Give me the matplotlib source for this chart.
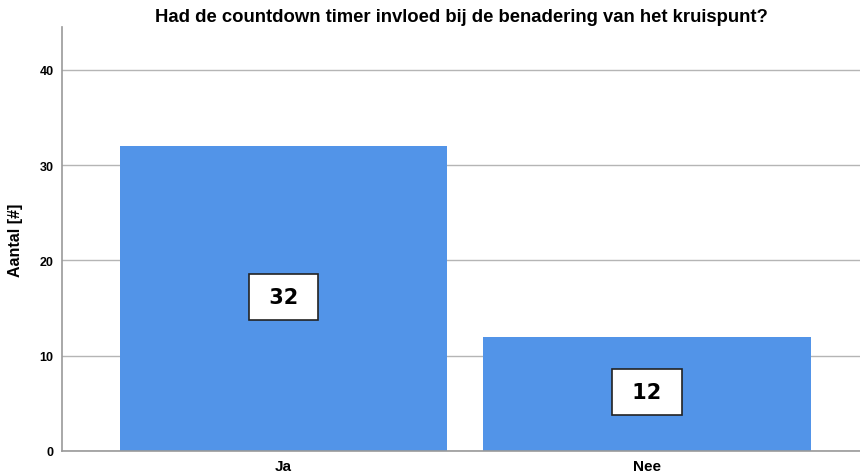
import matplotlib.pyplot as plt

categories = ['Ja', 'Nee']
counts = [32, 12]

fig = plt.figure(figsize=(8.6, 4.77), dpi=100)
ax = fig.add_axes([62 / 860, 1 - 452 / 477, 798 / 860, 424 / 477])

x = range(len(categories))
ax.bar(x, counts, width=0.9, color='#5294e8', zorder=2)

# waarde-labels in witte kaders midden in de staaf
for xi, c in zip(x, counts):
    ax.text(xi, c / 2 + 0.2, ' %d ' % c, ha='center', va='center', fontsize=15,
            fontweight='bold', family='DejaVu Sans', zorder=3,
            bbox=dict(boxstyle='square,pad=0.62', fc='white', ec='#222222', lw=1.2))

ax.set_xlim(-0.609, 1.586)
ax.set_ylim(0, 44.5)
ax.set_yticks([0, 10, 20, 30, 40])
ax.yaxis.grid(True, color='#b5b5b5', lw=1, zorder=0)
ax.set_axisbelow(True)

ax.set_xticks(list(x))
ax.set_xticklabels(categories, fontsize=11, fontweight='bold', family='Liberation Sans')
for lab in ax.get_yticklabels():
    lab.set_fontweight('bold')
    lab.set_fontsize(9)
    lab.set_family('Liberation Sans')
ax.tick_params(axis='both', length=0, pad=6)

for s in ['top', 'right']:
    ax.spines[s].set_visible(False)
for s in ['left', 'bottom']:
    ax.spines[s].set_color('#999999')
    ax.spines[s].set_linewidth(1.2)

ax.set_ylabel('Aantal [#]', fontsize=11.5, fontweight='bold', family='Liberation Sans', labelpad=12)
fig.text(461 / 860, 1 - 17 / 477, 'Had de countdown timer invloed bij de benadering van het kruispunt?',
         ha='center', va='center', fontsize=13.3, fontweight='bold', family='Liberation Sans')

fig.savefig('out.png', dpi=100)
